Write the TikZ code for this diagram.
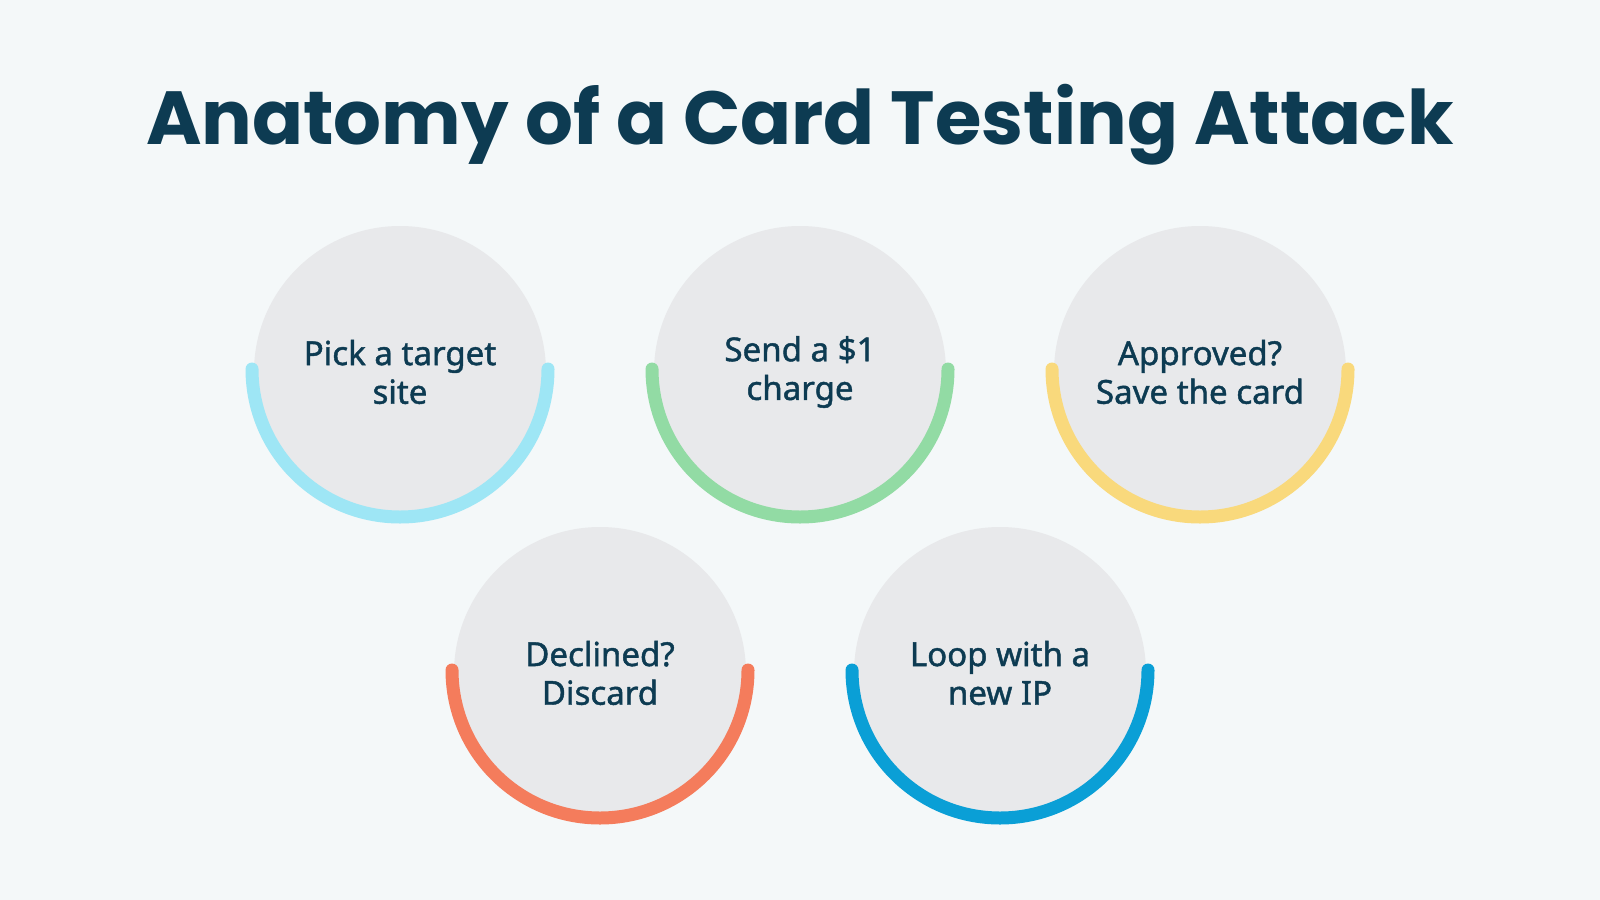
\documentclass[tikz,border=0pt]{standalone}
\usepackage{fontspec}
\newfontfamily\titlef{Poppins}[UprightFont=* Bold]
\newfontfamily\bodyf{Noto Sans}[FakeBold=1.3]
\definecolor{bg}{HTML}{F4F8F9}
\definecolor{ink}{HTML}{0D3B52}
\definecolor{disc}{HTML}{E8E9EB}
\definecolor{cA}{HTML}{9EE6F5}
\definecolor{cB}{HTML}{92DBA4}
\definecolor{cC}{HTML}{F9D97C}
\definecolor{cD}{HTML}{F47C5C}
\definecolor{cE}{HTML}{0A9FD6}
\begin{document}
\begin{tikzpicture}[x=0.01cm,y=-0.01cm,
  stepdisc/.style={circle,fill=disc,minimum size=292*0.01cm,inner sep=0pt,text=ink,font=\bodyf\fontsize{9.4pt}{11pt}\selectfont,align=center}]
\fill[bg] (0,0) rectangle (1600,900);
\useasboundingbox (0,0) rectangle (1600,900);
\node[font=\titlef\fontsize{21.4pt}{26pt}\selectfont,text=ink] (title) at (800,125) {Anatomy of a Card Testing Attack};
\foreach \n/\x/\y/\c/\t in {a/400/372/cA/{Pick a target\\site},b/800/372/cB/{Send a \$1\\charge},c/1200/372/cC/{Approved?\\Save the card},d/600/673/cD/{Declined?\\Discard},e/1000/673/cE/{Loop with a\\new IP}}{
  \node[stepdisc] (\n) at (\x,\y) {\t};
  \draw[\c,line width=13*0.01cm,line cap=round] (\n.center) ++(148,-3) arc[start angle=0,end angle=180,radius=148];
}
\end{tikzpicture}
\end{document}
